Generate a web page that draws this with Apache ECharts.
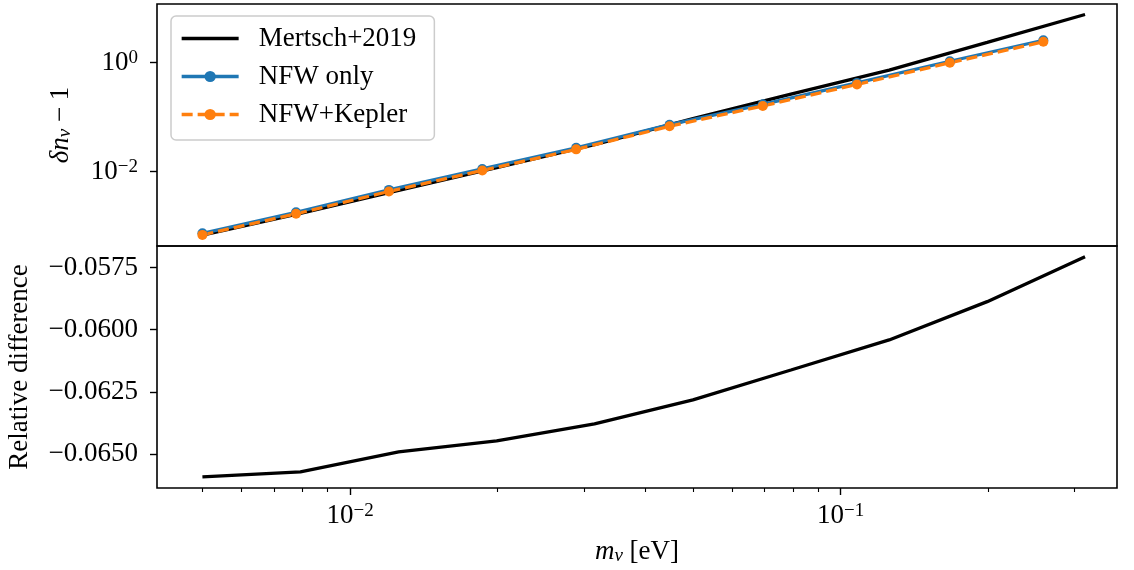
<!DOCTYPE html>
<html>
<head>
<meta charset="utf-8">
<script src="https://cdn.jsdelivr.net/npm/echarts@6/dist/echarts.min.js"></script>
<style>
  html, body { margin: 0; padding: 0; background: #fff; }
  #chart { width: 1134px; height: 570px; }
</style>
</head>
<body>
<div id="chart"></div>
<script>
// neutrino mass grid of the reference curve (eV)
const massFine = [0.005, 0.00792, 0.01256, 0.0199, 0.0315, 0.05, 0.0792, 0.1256, 0.199, 0.315]
const mertsch2019 = [6.8e-4, 1.70e-3, 4.47e-3, 0.0117, 0.031, 0.093, 0.262, 0.722, 2.33, 7.57]
const relDiff = [-0.06592, -0.06572, -0.06492, -0.06447, -0.06379, -0.06282, -0.06162, -0.06041, -0.05887, -0.05706]

// simulated masses (eV)
const massSim = [0.005, 0.00776, 0.0120, 0.0186, 0.0289, 0.0448, 0.0694, 0.108, 0.167, 0.259]
const nfwOnly = [7.3e-4, 1.78e-3, 4.58e-3, 0.0111, 0.0271, 0.0719, 0.170, 0.421, 1.05, 2.55]
const nfwKepler = [6.84e-4, 1.667e-3, 4.29e-3, 0.0104, 0.0254, 0.0673, 0.159, 0.394, 0.984, 2.39]

// ticks
const xMajor = [0.01, 0.1]
const xMinor = [0.005, 0.006, 0.007, 0.008, 0.009, 0.02, 0.03, 0.04, 0.05, 0.06, 0.07, 0.08, 0.09, 0.2, 0.3]
const yTopTicks = [0.01, 1]
const yBottomTicks = [-0.065, -0.0625, -0.06, -0.0575]

const X_MIN = 0.00404, X_MAX = 0.366
const Y_MIN = 4.28e-4, Y_MAX = 11.8
const R_MIN = -0.06637, R_MAX = -0.05663

const SERIF = 'Liberation Serif'
const FS = 27
const LW = 3.3

const zip = (xs, ys) => xs.map((x, i) => [x, ys[i]])
const powLabel = v => '{b|10}{sup|' + String(Math.round(Math.log10(v))).replace('-', '\u2212') + '}'
const powRich = {
  b: { fontFamily: SERIF, fontSize: FS, lineHeight: 27, verticalAlign: 'top', color: '#000' },
  sup: { fontFamily: SERIF, fontSize: 19, lineHeight: 19, verticalAlign: 'top', color: '#000' }
}
const mathRich = {
  i: { fontFamily: SERIF, fontSize: FS, fontStyle: 'italic', lineHeight: 27, verticalAlign: 'top', color: '#000' },
  r: { fontFamily: SERIF, fontSize: FS, lineHeight: 27, verticalAlign: 'top', color: '#000' },
  sub: { fontFamily: SERIF, fontSize: 19, fontStyle: 'italic', lineHeight: 19, padding: [10, 0, 0, 0], verticalAlign: 'bottom', color: '#000' }
}

const gridBox = { show: true, borderColor: '#000', borderWidth: 1.6, backgroundColor: 'transparent', containLabel: false, outerBoundsMode: 'none' }

const chart = echarts.init(document.getElementById('chart'))
chart.setOption({
  animation: false,
  backgroundColor: '#fff',
  textStyle: { fontFamily: SERIF },
  grid: [
    Object.assign({ left: 157, top: 4, width: 960, height: 242 }, gridBox),
    Object.assign({ left: 157, top: 246, width: 960, height: 242 }, gridBox)
  ],
  legend: {
    orient: 'vertical',
    left: 171,
    top: 16,
    padding: [9, 18, 12, 9],
    itemWidth: 57,
    itemHeight: 14,
    itemGap: 11,
    backgroundColor: 'rgba(255,255,255,0.8)',
    borderColor: '#cccccc',
    borderWidth: 1.5,
    borderRadius: 5,
    lineStyle: { width: LW },
    textStyle: { fontFamily: SERIF, fontSize: FS, lineHeight: 26, color: '#000', padding: [0, 0, 0, 15] },
    data: [
      { name: 'Mertsch+2019', itemStyle: { opacity: 0 } },
      'NFW only',
      'NFW+Kepler'
    ]
  },
  xAxis: [
    {
      gridIndex: 0, type: 'log', min: X_MIN, max: X_MAX,
      axisLine: { show: false }, axisTick: { show: false }, axisLabel: { show: false }, splitLine: { show: false }
    },
    {
      gridIndex: 1, type: 'log', min: X_MIN, max: X_MAX, position: 'bottom',
      axisLine: { show: false },
      axisTick: { show: true, inside: false, length: 7, customValues: xMajor, lineStyle: { color: '#000', width: 1.4 } },
      axisLabel: { show: true, margin: 14, customValues: xMajor, formatter: powLabel, rich: powRich },
      splitLine: { show: false },
      name: '{i|m}{sub|\u03bd}{r| [eV]}',
      nameLocation: 'middle',
      nameGap: 50,
      nameTextStyle: { rich: mathRich }
    },
    {
      gridIndex: 1, type: 'log', min: X_MIN, max: X_MAX, position: 'bottom',
      axisLine: { show: false },
      axisTick: { show: true, inside: false, length: 4, customValues: xMinor, lineStyle: { color: '#000', width: 1.1 } },
      axisLabel: { show: false },
      splitLine: { show: false }
    }
  ],
  yAxis: [
    {
      gridIndex: 0, type: 'log', min: Y_MIN, max: Y_MAX,
      axisLine: { show: false },
      axisTick: { show: true, length: 7, customValues: yTopTicks, lineStyle: { color: '#000', width: 1.4 } },
      axisLabel: { show: true, margin: 19, customValues: yTopTicks, formatter: powLabel, rich: powRich },
      splitLine: { show: false },
      name: '{i|\u03b4n}{sub|\u03bd}{r| \u2212 1}',
      nameLocation: 'middle',
      nameRotate: 90,
      nameGap: 83,
      nameTextStyle: { rich: mathRich }
    },
    {
      gridIndex: 1, type: 'value', min: R_MIN, max: R_MAX,
      axisLine: { show: false },
      axisTick: { show: true, length: 7, customValues: yBottomTicks, lineStyle: { color: '#000', width: 1.4 } },
      axisLabel: {
        show: true, margin: 19, customValues: yBottomTicks,
        fontFamily: SERIF, fontSize: FS, color: '#000',
        formatter: v => '\u2212' + Math.abs(v).toFixed(4)
      },
      splitLine: { show: false },
      name: 'Relative difference',
      nameLocation: 'middle',
      nameRotate: 90,
      nameGap: 124,
      nameTextStyle: { fontFamily: SERIF, fontSize: FS, color: '#000' }
    }
  ],
  series: [
    {
      name: 'Mertsch+2019', type: 'line', xAxisIndex: 0, yAxisIndex: 0,
      data: zip(massFine, mertsch2019),
      showSymbol: false, symbol: 'none',
      itemStyle: { color: '#000' },
      lineStyle: { color: '#000', width: LW }
    },
    {
      name: 'NFW only', type: 'line', xAxisIndex: 0, yAxisIndex: 0,
      data: zip(massSim, nfwOnly),
      symbol: 'circle', symbolSize: 10,
      itemStyle: { color: '#1f77b4' },
      lineStyle: { color: '#1f77b4', width: LW }
    },
    {
      name: 'NFW+Kepler', type: 'line', xAxisIndex: 0, yAxisIndex: 0,
      data: zip(massSim, nfwKepler),
      symbol: 'circle', symbolSize: 10,
      itemStyle: { color: '#ff7f0e' },
      lineStyle: { color: '#ff7f0e', width: LW, type: [11, 5] }
    },
    {
      name: 'relative difference', type: 'line', xAxisIndex: 1, yAxisIndex: 1,
      data: zip(massFine, relDiff),
      showSymbol: false, symbol: 'none',
      lineStyle: { color: '#000', width: LW }
    }
  ]
})
</script>
</body>
</html>
